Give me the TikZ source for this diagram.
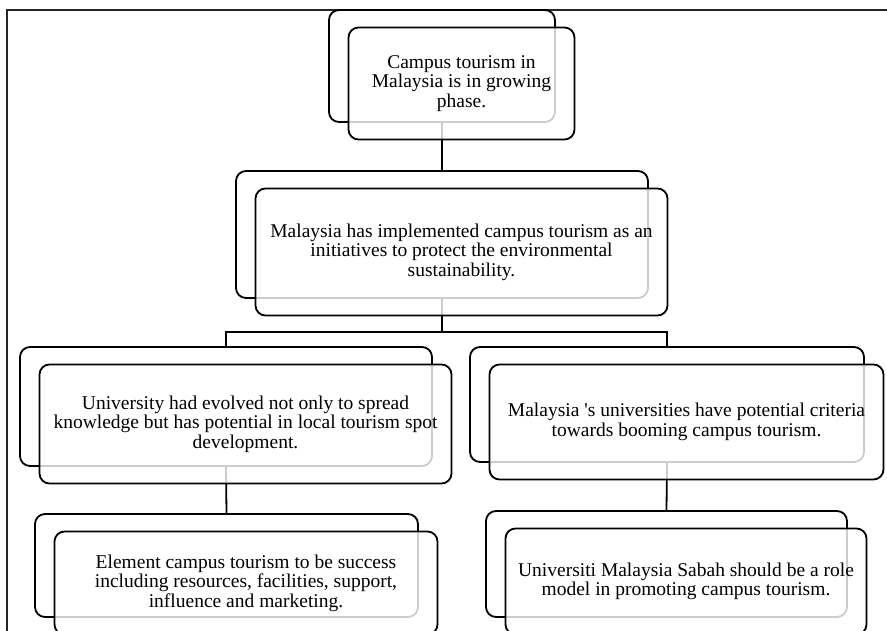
\documentclass[tikz,border=0pt]{standalone}
\usepackage{fontspec}
\setmainfont{Liberation Serif}
\begin{document}
\begin{tikzpicture}[x=1pt,y=-1pt,
  box/.style={draw=black, line width=1.8pt, rounded corners=10pt, inner sep=0pt, outer sep=0pt},
  backbox/.style={box},
  frontbox/.style={box, fill=white, fill opacity=0.8, text opacity=1, draw opacity=1,
     align=center, font=\fontsize{19.5}{19.5}\selectfont},
  link/.style={draw=black, line width=1.8pt}]
\useasboundingbox (0,0) rectangle (887,631);
\clip (0,0) rectangle (887,631);
\fill[white] (0,0) rectangle (887,631);
% frame
\node[draw=black!85, line width=1.6pt, inner sep=0pt, minimum width=900pt, minimum height=650pt, anchor=north west] (frame) at (6,9) {};
% back boxes
\node[backbox, minimum width=226pt, minimum height=112pt] (b1) at (442,66) {};
\node[backbox, minimum width=412pt, minimum height=127pt] (b2) at (442,234.5) {};
\node[backbox, minimum width=412pt, minimum height=119pt] (b3l) at (226,406.5) {};
\node[backbox, minimum width=394pt, minimum height=115pt] (b3r) at (667,404.5) {};
\node[backbox, minimum width=383pt, minimum height=103pt] (b4l) at (226.5,565.5) {};
\node[backbox, minimum width=361pt, minimum height=106pt] (b4r) at (666.5,564) {};
% connectors
\draw[link] (b1.south) -- (b2.north);
\draw[link] (b2.south) -- ++(0,34) -| (b3l.north);
\draw[link] (b2.south) -- ++(0,34) -| (b3r.north);
\draw[link] (b3l.south) -- (b4l.north);
\draw[link] (b3r.south) -- (b4r.north);
% front boxes
\node[frontbox, minimum width=226pt, minimum height=112pt] (f1) at (461.5,83.5)
  {Campus tourism in\\Malaysia is in growing\\phase.};
\node[frontbox, minimum width=412pt, minimum height=127pt] (f2) at (461.5,252)
  {Malaysia has implemented campus tourism as an\\initiatives to protect the environmental\\sustainability.};
\node[frontbox, minimum width=412pt, minimum height=119pt] (f3l) at (245.5,424)
  {University had evolved not only to spread\\knowledge but has potential in local tourism spot\\development.};
\node[frontbox, minimum width=394pt, minimum height=115pt] (f3r) at (686.5,422)
  {Malaysia \textquotesingle s universities have potential criteria\\towards booming campus tourism.};
\node[frontbox, minimum width=383pt, minimum height=103pt] (f4l) at (246,583)
  {Element campus tourism to be success\\including resources, facilities, support,\\influence and marketing.};
\node[frontbox, minimum width=361pt, minimum height=106pt] (f4r) at (686,581.5)
  {Universiti Malaysia Sabah should be a role\\model in promoting campus tourism.};
\end{tikzpicture}
\end{document}
